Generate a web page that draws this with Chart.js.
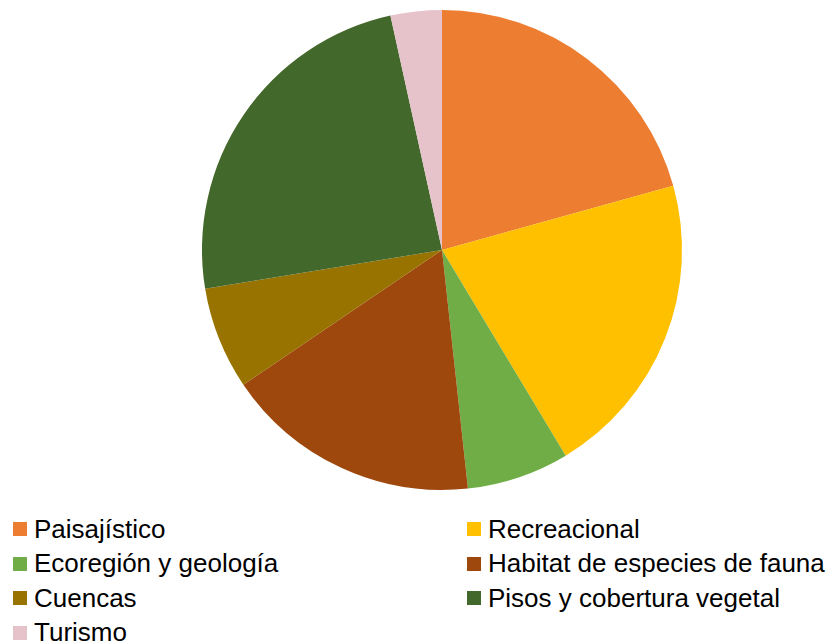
<!DOCTYPE html>
<html lang="es">
<head>
<meta charset="UTF-8">
<title>Criterios</title>
<script src="https://cdn.jsdelivr.net/npm/chart.js@4"></script>
<style>
  body { margin: 0; background: #fff; font-family: "Liberation Sans", Arial, sans-serif; }
  #wrap { position: relative; width: 835px; height: 641px; overflow: hidden; }
  #chartBox { position: absolute; left: 0; top: 0; width: 835px; height: 500px; }
  #legend {
    position: absolute; left: 13px; top: 512px; width: 822px;
    display: grid; grid-template-columns: 454px auto; grid-auto-rows: 34.5px;
    font-size: 26px; color: #000;
  }
  .item { display: flex; align-items: center; white-space: nowrap; }
  .box { width: 14px; height: 14px; margin-right: 7px; flex: none; }
</style>
</head>
<body>
<div id="wrap">
  <div id="chartBox"><canvas id="pieChart"></canvas></div>
  <div id="legend"></div>
</div>
<script>
const labels = ["Paisajístico", "Recreacional", "Ecoregión y geología", "Habitat de especies de fauna", "Cuencas", "Pisos y cobertura vegetal", "Turismo"];
const values = [6, 6, 2, 5, 2, 7, 1];
const colors = ["#ED7D31", "#FFC000", "#70AD47", "#9E480E", "#997300", "#43682B", "#E6C3CA"];

document.addEventListener("DOMContentLoaded", () => {
  // --- Pie ---
  const ctx = document.getElementById("pieChart");
  new Chart(ctx, {
    type: "pie",
    data: {
      labels,
      datasets: [{
        data: values,
        backgroundColor: colors,
        borderWidth: 0
      }]
    },
    options: {
      responsive: true,
      maintainAspectRatio: false,
      animation: false,
      layout: { padding: { left: 49, right: 0, top: 10, bottom: 10 } },
      plugins: {
        legend: { display: false },
        tooltip: { enabled: false }
      }
    }
  });

  // --- Legend (2 columns) ---
  const legend = document.getElementById("legend");
  labels.forEach((name, i) => {
    const item = document.createElement("div");
    item.className = "item";
    item.innerHTML = `<span class="box" style="background:${colors[i]}"></span><span>${name}</span>`;
    legend.appendChild(item);
  });
});
</script>
</body>
</html>
